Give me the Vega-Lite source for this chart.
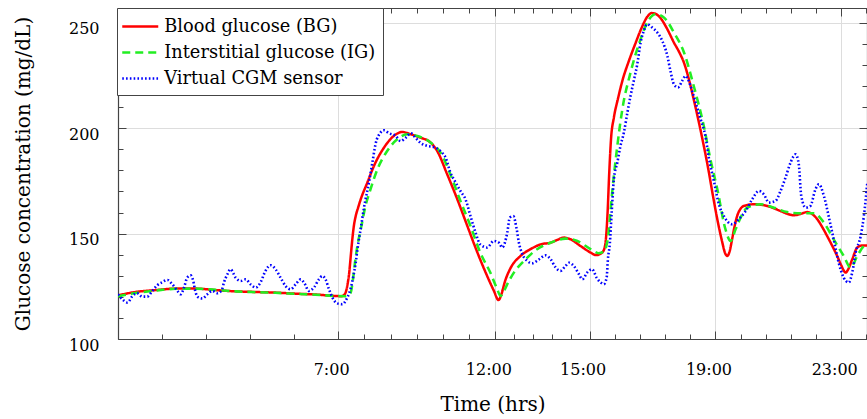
{
  "$schema": "https://vega.github.io/schema/vega-lite/v6.json",
  "width": 749,
  "height": 331,
  "autosize": "none",
  "padding": {"left": 118, "top": 8, "right": 0, "bottom": 80},
  "background": "white",
  "config": {
    "view": {"stroke": "#555555", "strokeWidth": 1},
    "font": "DejaVu Serif",
    "legend": {
      "orient": "none", "legendX": -1, "legendY": 0,
      "fillColor": "white", "strokeColor": "#444444", "padding": 7,
      "symbolType": "M-1.8,0H1.8", "symbolSize": 400, "symbolOffset": 4.75,
      "labelFont": "DejaVu Serif", "labelFontSize": 17.8, "labelColor": "black", "labelLimit": 600,
      "labelOffset": 12.5, "rowPadding": 5
    }
  },
  "datasets": {
    "g": [
      {"t":0,"v":120.7,"s":"BG"},{"t":0.56,"v":122.3,"s":"BG"},{"t":1.2,"v":123.2,"s":"BG"},{"t":1.83,"v":123.9,"s":"BG"},{"t":2.47,"v":123.9,"s":"BG"},{"t":3.1,"v":123.2,"s":"BG"},{"t":3.74,"v":122.6,"s":"BG"},{"t":4.38,"v":122.3,"s":"BG"},{"t":5.01,"v":122,"s":"BG"},{"t":5.65,"v":121.5,"s":"BG"},{"t":6.28,"v":121.1,"s":"BG"},{"t":6.92,"v":120.4,"s":"BG"},{"t":7.1,"v":120.3,"s":"BG"},{"t":7.18,"v":120.8,"s":"BG"},{"t":7.25,"v":122.5,"s":"BG"},{"t":7.3,"v":126,"s":"BG"},{"t":7.35,"v":131,"s":"BG"},{"t":7.4,"v":139,"s":"BG"},{"t":7.45,"v":147,"s":"BG"},{"t":7.5,"v":153.5,"s":"BG"},{"t":7.56,"v":158.3,"s":"BG"},{"t":7.64,"v":162.5,"s":"BG"},{"t":7.72,"v":166.3,"s":"BG"},{"t":7.93,"v":174.2,"s":"BG"},{"t":8.14,"v":182.1,"s":"BG"},{"t":8.46,"v":190.8,"s":"BG"},{"t":8.77,"v":196.3,"s":"BG"},{"t":9.04,"v":198.2,"s":"BG"},{"t":9.31,"v":197.1,"s":"BG"},{"t":9.62,"v":195.5,"s":"BG"},{"t":9.94,"v":193.2,"s":"BG"},{"t":10.15,"v":189.2,"s":"BG"},{"t":10.47,"v":178.1,"s":"BG"},{"t":10.79,"v":166.3,"s":"BG"},{"t":11.11,"v":153.6,"s":"BG"},{"t":11.43,"v":141,"s":"BG"},{"t":11.74,"v":129.9,"s":"BG"},{"t":11.95,"v":123,"s":"BG"},{"t":12.1,"v":118.5,"s":"BG"},{"t":12.2,"v":121.5,"s":"BG"},{"t":12.3,"v":127,"s":"BG"},{"t":12.48,"v":133.5,"s":"BG"},{"t":12.8,"v":139.4,"s":"BG"},{"t":13.12,"v":142.6,"s":"BG"},{"t":13.44,"v":144.9,"s":"BG"},{"t":13.76,"v":145.7,"s":"BG"},{"t":13.97,"v":147,"s":"BG"},{"t":14.18,"v":148.1,"s":"BG"},{"t":14.39,"v":147.3,"s":"BG"},{"t":14.71,"v":144.1,"s":"BG"},{"t":15.03,"v":141,"s":"BG"},{"t":15.2,"v":139.8,"s":"BG"},{"t":15.38,"v":140.8,"s":"BG"},{"t":15.47,"v":143,"s":"BG"},{"t":15.52,"v":148,"s":"BG"},{"t":15.57,"v":160,"s":"BG"},{"t":15.62,"v":178,"s":"BG"},{"t":15.68,"v":195,"s":"BG"},{"t":15.77,"v":205,"s":"BG"},{"t":15.9,"v":214,"s":"BG"},{"t":16.05,"v":223,"s":"BG"},{"t":16.25,"v":232,"s":"BG"},{"t":16.45,"v":240,"s":"BG"},{"t":16.65,"v":247.5,"s":"BG"},{"t":16.83,"v":252.8,"s":"BG"},{"t":16.97,"v":254.6,"s":"BG"},{"t":17.1,"v":254.2,"s":"BG"},{"t":17.25,"v":252.3,"s":"BG"},{"t":17.45,"v":247.5,"s":"BG"},{"t":17.68,"v":240.6,"s":"BG"},{"t":17.85,"v":236,"s":"BG"},{"t":18.0,"v":231,"s":"BG"},{"t":18.15,"v":223.5,"s":"BG"},{"t":18.31,"v":213.6,"s":"BG"},{"t":18.47,"v":203,"s":"BG"},{"t":18.63,"v":191.6,"s":"BG"},{"t":18.78,"v":180,"s":"BG"},{"t":18.92,"v":168,"s":"BG"},{"t":19.07,"v":156,"s":"BG"},{"t":19.22,"v":145.7,"s":"BG"},{"t":19.3,"v":141,"s":"BG"},{"t":19.38,"v":139.4,"s":"BG"},{"t":19.45,"v":141.5,"s":"BG"},{"t":19.53,"v":147.3,"s":"BG"},{"t":19.61,"v":153.5,"s":"BG"},{"t":19.69,"v":158.3,"s":"BG"},{"t":19.8,"v":161.8,"s":"BG"},{"t":19.9,"v":163.1,"s":"BG"},{"t":20.22,"v":163.9,"s":"BG"},{"t":20.65,"v":163.1,"s":"BG"},{"t":21.07,"v":160.7,"s":"BG"},{"t":21.3,"v":159.3,"s":"BG"},{"t":21.49,"v":158.7,"s":"BG"},{"t":21.7,"v":159.3,"s":"BG"},{"t":21.92,"v":160.2,"s":"BG"},{"t":22.1,"v":159,"s":"BG"},{"t":22.24,"v":156.8,"s":"BG"},{"t":22.4,"v":153,"s":"BG"},{"t":22.55,"v":148.9,"s":"BG"},{"t":22.87,"v":139.4,"s":"BG"},{"t":23.0,"v":135,"s":"BG"},{"t":23.14,"v":131.5,"s":"BG"},{"t":23.22,"v":133,"s":"BG"},{"t":23.35,"v":137.8,"s":"BG"},{"t":23.51,"v":143.4,"s":"BG"},{"t":23.65,"v":144.3,"s":"BG"},{"t":23.83,"v":144.4,"s":"BG"},

      {"t":0,"v":120.3,"s":"IG"},{"t":0.56,"v":121.8,"s":"IG"},{"t":1.2,"v":123,"s":"IG"},{"t":1.83,"v":123.8,"s":"IG"},{"t":2.47,"v":123.9,"s":"IG"},{"t":3.1,"v":123.3,"s":"IG"},{"t":3.74,"v":122.6,"s":"IG"},{"t":4.38,"v":122.2,"s":"IG"},{"t":5.01,"v":121.9,"s":"IG"},{"t":5.65,"v":121.4,"s":"IG"},{"t":6.28,"v":121,"s":"IG"},{"t":6.92,"v":120.4,"s":"IG"},{"t":7.2,"v":120.3,"s":"IG"},{"t":7.3,"v":120.6,"s":"IG"},{"t":7.4,"v":122,"s":"IG"},{"t":7.47,"v":128,"s":"IG"},{"t":7.55,"v":137.8,"s":"IG"},{"t":7.63,"v":145.5,"s":"IG"},{"t":7.72,"v":152,"s":"IG"},{"t":7.87,"v":163.1,"s":"IG"},{"t":8.03,"v":171,"s":"IG"},{"t":8.25,"v":180.5,"s":"IG"},{"t":8.56,"v":189.2,"s":"IG"},{"t":8.88,"v":194.7,"s":"IG"},{"t":9.2,"v":197.1,"s":"IG"},{"t":9.52,"v":196.3,"s":"IG"},{"t":9.94,"v":193.2,"s":"IG"},{"t":10.26,"v":188.4,"s":"IG"},{"t":10.57,"v":178.1,"s":"IG"},{"t":10.89,"v":165.5,"s":"IG"},{"t":11.21,"v":153.6,"s":"IG"},{"t":11.52,"v":141,"s":"IG"},{"t":11.84,"v":131.5,"s":"IG"},{"t":12.05,"v":124,"s":"IG"},{"t":12.17,"v":120.4,"s":"IG"},{"t":12.25,"v":122,"s":"IG"},{"t":12.38,"v":126,"s":"IG"},{"t":12.59,"v":131.5,"s":"IG"},{"t":12.91,"v":137,"s":"IG"},{"t":13.33,"v":142.6,"s":"IG"},{"t":13.76,"v":145.7,"s":"IG"},{"t":14.23,"v":147.6,"s":"IG"},{"t":14.61,"v":146.5,"s":"IG"},{"t":15.03,"v":142.6,"s":"IG"},{"t":15.29,"v":140.7,"s":"IG"},{"t":15.45,"v":141.5,"s":"IG"},{"t":15.53,"v":144,"s":"IG"},{"t":15.6,"v":150,"s":"IG"},{"t":15.66,"v":160,"s":"IG"},{"t":15.72,"v":170,"s":"IG"},{"t":15.88,"v":191.6,"s":"IG"},{"t":16.04,"v":209,"s":"IG"},{"t":16.3,"v":226.4,"s":"IG"},{"t":16.62,"v":242.2,"s":"IG"},{"t":16.83,"v":250.1,"s":"IG"},{"t":17.1,"v":254,"s":"IG"},{"t":17.36,"v":252.5,"s":"IG"},{"t":17.68,"v":245.4,"s":"IG"},{"t":18.0,"v":235.9,"s":"IG"},{"t":18.31,"v":220,"s":"IG"},{"t":18.63,"v":201,"s":"IG"},{"t":18.84,"v":185.2,"s":"IG"},{"t":19.06,"v":171,"s":"IG"},{"t":19.32,"v":152,"s":"IG"},{"t":19.48,"v":146.5,"s":"IG"},{"t":19.64,"v":152,"s":"IG"},{"t":19.8,"v":157.6,"s":"IG"},{"t":20.01,"v":162.3,"s":"IG"},{"t":20.43,"v":163.9,"s":"IG"},{"t":20.86,"v":162.3,"s":"IG"},{"t":21.28,"v":160.2,"s":"IG"},{"t":21.71,"v":159.6,"s":"IG"},{"t":22.13,"v":159.6,"s":"IG"},{"t":22.45,"v":155.2,"s":"IG"},{"t":22.76,"v":147.3,"s":"IG"},{"t":23.08,"v":139.4,"s":"IG"},{"t":23.3,"v":133.9,"s":"IG"},{"t":23.51,"v":139.4,"s":"IG"},{"t":23.72,"v":144.1,"s":"IG"},{"t":23.83,"v":145,"s":"IG"},

      {"t":0,"v":121.2,"s":"CGM"},{"t":0.14,"v":118.8,"s":"CGM"},{"t":0.3,"v":117.3,"s":"CGM"},{"t":0.46,"v":120.4,"s":"CGM"},{"t":0.61,"v":121.7,"s":"CGM"},{"t":0.77,"v":120.1,"s":"CGM"},{"t":0.93,"v":120.1,"s":"CGM"},{"t":1.09,"v":122.8,"s":"CGM"},{"t":1.25,"v":125.5,"s":"CGM"},{"t":1.41,"v":127,"s":"CGM"},{"t":1.57,"v":128,"s":"CGM"},{"t":1.73,"v":125.9,"s":"CGM"},{"t":1.89,"v":122.8,"s":"CGM"},{"t":1.99,"v":121.2,"s":"CGM"},{"t":2.1,"v":124.4,"s":"CGM"},{"t":2.2,"v":129.1,"s":"CGM"},{"t":2.31,"v":130.2,"s":"CGM"},{"t":2.38,"v":128.3,"s":"CGM"},{"t":2.47,"v":122,"s":"CGM"},{"t":2.57,"v":119.6,"s":"CGM"},{"t":2.68,"v":119.2,"s":"CGM"},{"t":2.84,"v":121.2,"s":"CGM"},{"t":3.0,"v":122.8,"s":"CGM"},{"t":3.16,"v":121.7,"s":"CGM"},{"t":3.3,"v":123.2,"s":"CGM"},{"t":3.37,"v":126.8,"s":"CGM"},{"t":3.48,"v":130.7,"s":"CGM"},{"t":3.58,"v":133.1,"s":"CGM"},{"t":3.74,"v":129.1,"s":"CGM"},{"t":3.9,"v":127.5,"s":"CGM"},{"t":4.06,"v":128.3,"s":"CGM"},{"t":4.22,"v":125.9,"s":"CGM"},{"t":4.38,"v":124.4,"s":"CGM"},{"t":4.53,"v":126.8,"s":"CGM"},{"t":4.69,"v":132.3,"s":"CGM"},{"t":4.85,"v":135,"s":"CGM"},{"t":5.01,"v":133.1,"s":"CGM"},{"t":5.17,"v":129.1,"s":"CGM"},{"t":5.33,"v":125.1,"s":"CGM"},{"t":5.49,"v":123.6,"s":"CGM"},{"t":5.65,"v":125.9,"s":"CGM"},{"t":5.81,"v":128.3,"s":"CGM"},{"t":5.93,"v":126.4,"s":"CGM"},{"t":6.07,"v":122.8,"s":"CGM"},{"t":6.23,"v":124.4,"s":"CGM"},{"t":6.39,"v":128.3,"s":"CGM"},{"t":6.5,"v":129.9,"s":"CGM"},{"t":6.6,"v":128.3,"s":"CGM"},{"t":6.71,"v":123.6,"s":"CGM"},{"t":6.82,"v":119.6,"s":"CGM"},{"t":6.97,"v":116.9,"s":"CGM"},{"t":7.13,"v":116.5,"s":"CGM"},{"t":7.29,"v":119.6,"s":"CGM"},{"t":7.4,"v":124,"s":"CGM"},{"t":7.5,"v":131,"s":"CGM"},{"t":7.56,"v":136.2,"s":"CGM"},{"t":7.61,"v":142,"s":"CGM"},{"t":7.72,"v":152.5,"s":"CGM"},{"t":7.82,"v":162,"s":"CGM"},{"t":7.98,"v":174.2,"s":"CGM"},{"t":8.09,"v":183.7,"s":"CGM"},{"t":8.19,"v":192.4,"s":"CGM"},{"t":8.35,"v":197.9,"s":"CGM"},{"t":8.46,"v":199,"s":"CGM"},{"t":8.62,"v":197.6,"s":"CGM"},{"t":8.83,"v":196.3,"s":"CGM"},{"t":8.99,"v":193.9,"s":"CGM"},{"t":9.15,"v":195.5,"s":"CGM"},{"t":9.31,"v":197.6,"s":"CGM"},{"t":9.46,"v":195.5,"s":"CGM"},{"t":9.62,"v":193,"s":"CGM"},{"t":9.84,"v":191.6,"s":"CGM"},{"t":10.05,"v":191,"s":"CGM"},{"t":10.26,"v":189,"s":"CGM"},{"t":10.42,"v":186,"s":"CGM"},{"t":10.57,"v":179,"s":"CGM"},{"t":10.74,"v":174.2,"s":"CGM"},{"t":10.89,"v":170.2,"s":"CGM"},{"t":11.05,"v":166.3,"s":"CGM"},{"t":11.21,"v":158.3,"s":"CGM"},{"t":11.37,"v":150.5,"s":"CGM"},{"t":11.52,"v":144.9,"s":"CGM"},{"t":11.74,"v":143.4,"s":"CGM"},{"t":11.95,"v":146.5,"s":"CGM"},{"t":12.11,"v":145.7,"s":"CGM"},{"t":12.22,"v":143.4,"s":"CGM"},{"t":12.38,"v":150.5,"s":"CGM"},{"t":12.46,"v":157.6,"s":"CGM"},{"t":12.57,"v":158.3,"s":"CGM"},{"t":12.68,"v":152,"s":"CGM"},{"t":12.75,"v":145.7,"s":"CGM"},{"t":12.86,"v":140.2,"s":"CGM"},{"t":13.02,"v":137,"s":"CGM"},{"t":13.17,"v":135.9,"s":"CGM"},{"t":13.39,"v":137.8,"s":"CGM"},{"t":13.6,"v":139.7,"s":"CGM"},{"t":13.76,"v":137.8,"s":"CGM"},{"t":13.92,"v":133.9,"s":"CGM"},{"t":14.07,"v":132.3,"s":"CGM"},{"t":14.23,"v":134.6,"s":"CGM"},{"t":14.34,"v":136.2,"s":"CGM"},{"t":14.5,"v":134.6,"s":"CGM"},{"t":14.66,"v":130.7,"s":"CGM"},{"t":14.77,"v":128.3,"s":"CGM"},{"t":14.92,"v":131.5,"s":"CGM"},{"t":15.08,"v":133.1,"s":"CGM"},{"t":15.22,"v":129.1,"s":"CGM"},{"t":15.35,"v":126.8,"s":"CGM"},{"t":15.45,"v":126,"s":"CGM"},{"t":15.54,"v":129.1,"s":"CGM"},{"t":15.58,"v":137.8,"s":"CGM"},{"t":15.64,"v":145,"s":"CGM"},{"t":15.7,"v":160,"s":"CGM"},{"t":15.77,"v":175.8,"s":"CGM"},{"t":15.88,"v":183.7,"s":"CGM"},{"t":15.98,"v":191.6,"s":"CGM"},{"t":16.09,"v":198,"s":"CGM"},{"t":16.2,"v":207.4,"s":"CGM"},{"t":16.3,"v":215.3,"s":"CGM"},{"t":16.41,"v":223,"s":"CGM"},{"t":16.51,"v":230,"s":"CGM"},{"t":16.62,"v":240.6,"s":"CGM"},{"t":16.72,"v":246.1,"s":"CGM"},{"t":16.83,"v":249.3,"s":"CGM"},{"t":16.99,"v":247.7,"s":"CGM"},{"t":17.15,"v":245.4,"s":"CGM"},{"t":17.31,"v":241.4,"s":"CGM"},{"t":17.47,"v":234.3,"s":"CGM"},{"t":17.57,"v":227.1,"s":"CGM"},{"t":17.68,"v":220.8,"s":"CGM"},{"t":17.81,"v":219.3,"s":"CGM"},{"t":17.94,"v":222.4,"s":"CGM"},{"t":18.05,"v":224.8,"s":"CGM"},{"t":18.15,"v":222.4,"s":"CGM"},{"t":18.26,"v":217.6,"s":"CGM"},{"t":18.37,"v":212.1,"s":"CGM"},{"t":18.53,"v":204.2,"s":"CGM"},{"t":18.68,"v":196.3,"s":"CGM"},{"t":18.79,"v":186,"s":"CGM"},{"t":18.95,"v":175,"s":"CGM"},{"t":19.11,"v":163.9,"s":"CGM"},{"t":19.27,"v":158.3,"s":"CGM"},{"t":19.53,"v":154.4,"s":"CGM"},{"t":19.74,"v":156.8,"s":"CGM"},{"t":19.96,"v":160.7,"s":"CGM"},{"t":20.17,"v":166.3,"s":"CGM"},{"t":20.38,"v":170.2,"s":"CGM"},{"t":20.54,"v":168.6,"s":"CGM"},{"t":20.7,"v":164.7,"s":"CGM"},{"t":20.91,"v":165.5,"s":"CGM"},{"t":21.07,"v":170.2,"s":"CGM"},{"t":21.23,"v":176.6,"s":"CGM"},{"t":21.39,"v":183.7,"s":"CGM"},{"t":21.55,"v":187.6,"s":"CGM"},{"t":21.65,"v":182.9,"s":"CGM"},{"t":21.73,"v":167.8,"s":"CGM"},{"t":21.87,"v":162.3,"s":"CGM"},{"t":22.02,"v":163.1,"s":"CGM"},{"t":22.18,"v":171,"s":"CGM"},{"t":22.29,"v":173.4,"s":"CGM"},{"t":22.45,"v":167.8,"s":"CGM"},{"t":22.61,"v":157.6,"s":"CGM"},{"t":22.76,"v":147.3,"s":"CGM"},{"t":22.92,"v":136.2,"s":"CGM"},{"t":23.08,"v":129.1,"s":"CGM"},{"t":23.24,"v":126.8,"s":"CGM"},{"t":23.35,"v":131.5,"s":"CGM"},{"t":23.46,"v":141,"s":"CGM"},{"t":23.62,"v":148.9,"s":"CGM"},{"t":23.72,"v":158.3,"s":"CGM"},{"t":23.83,"v":174.2,"s":"CGM"}
    ]
  },
  "data": {"name": "g"},
  "resolve": {"axis": {"x": "independent", "y": "independent"}},
  "layer": [
    {
      "transform": [{"filter": "datum.s == 'BG'"}],
      "mark": {"type": "line", "interpolate": "monotone", "strokeCap": "butt", "clip": true},
      "encoding": {
        "x": {"field": "t", "type": "quantitative", "scale": {"domain": [0, 23.82], "nice": false, "zero": false},
          "axis": {"orient": "bottom",
            "values": [1.4,2.8,4.2,5.6,7,7.8333,8.6667,9.5,10.3333,11.1667,12,12.6,13.2,13.8,14.4,15,15.8,16.6,17.4,18.2,19,19.8,20.6,21.4,22.2,23,23.8],
            "labelExpr": "indexof([7,12,15,19,23], datum.value) >= 0 ? datum.value + ':00' : ''",
            "tickSize": {"condition": {"test": "indexof([7,12,15,19,23], datum.value) >= 0", "value": -8}, "value": -5},
            "grid": true,
            "gridOpacity": {"condition": {"test": "indexof([7,12,15,19,23], datum.value) >= 0", "value": 1}, "value": 0},
            "gridColor": "#dddddd", "domainColor": "#444444", "tickColor": "#444444", "domainWidth": 1.2,
            "labelFont": "DejaVu Serif", "labelFontSize": 16, "labelColor": "black",
            "labelPadding": 30, "labelOffset": -7, "labelOverlap": false, "labelFlush": false,
            "title": "Time (hrs)", "titleFont": "DejaVu Serif", "titleFontSize": 20, "titleFontWeight": "normal", "titleColor": "black", "titlePadding": 14}},
        "y": {"field": "v", "type": "quantitative", "scale": {"domain": [100, 257], "nice": false, "zero": false},
          "axis": {"orient": "left",
            "values": [100,110,120,130,140,150,160,170,180,190,200,210,220,230,240,250],
            "labelExpr": "datum.value % 50 == 0 ? datum.label : ''",
            "tickSize": {"condition": {"test": "datum.value % 50 == 0", "value": -8}, "value": -5},
            "grid": true,
            "gridOpacity": {"condition": {"test": "datum.value % 50 == 0", "value": 1}, "value": 0},
            "gridColor": "#dddddd", "domainColor": "#444444", "tickColor": "#444444", "domainWidth": 1.2,
            "labelFont": "DejaVu Serif", "labelFontSize": 16, "labelColor": "black",
            "labelPadding": 27, "labelOffset": 6, "labelOverlap": false, "labelFlush": false,
            "title": "Glucose concentration (mg/dL)", "titleFont": "DejaVu Serif", "titleFontSize": 20, "titleFontWeight": "normal", "titleColor": "black", "titlePadding": 35}},
        "color": {"field": "s", "type": "nominal", "scale": {"domain": ["BG", "IG", "CGM"], "range": ["#ff0000", "#22ee22", "#0000ff"]},
          "legend": {"title": null, "labelExpr": "datum.label == 'BG' ? 'Blood glucose (BG)' : datum.label == 'IG' ? 'Interstitial glucose (IG)' : 'Virtual CGM sensor'"}},
        "strokeDash": {"field": "s", "type": "nominal", "scale": {"domain": ["BG", "IG", "CGM"], "range": [[1, 0], [8, 5], [1.6, 2.2]]},
          "legend": {"title": null, "labelExpr": "datum.label == 'BG' ? 'Blood glucose (BG)' : datum.label == 'IG' ? 'Interstitial glucose (IG)' : 'Virtual CGM sensor'"}},
        "strokeWidth": {"field": "s", "type": "nominal", "scale": {"domain": ["BG", "IG", "CGM"], "range": [2.5, 2.6, 1.8]},
          "legend": {"title": null, "labelExpr": "datum.label == 'BG' ? 'Blood glucose (BG)' : datum.label == 'IG' ? 'Interstitial glucose (IG)' : 'Virtual CGM sensor'"}}
      }
    },
    {
      "transform": [{"filter": "datum.s == 'IG'"}],
      "mark": {"type": "line", "interpolate": "monotone", "strokeCap": "butt", "clip": true},
      "encoding": {
        "x": {"field": "t", "type": "quantitative",
          "axis": {"orient": "top",
            "values": [1.4,2.8,4.2,5.6,7,7.8333,8.6667,9.5,10.3333,11.1667,12,12.6,13.2,13.8,14.4,15,15.8,16.6,17.4,18.2,19,19.8,20.6,21.4,22.2,23,23.8],
            "labels": false, "grid": false, "title": null,
            "tickSize": {"condition": {"test": "indexof([7,12,15,19,23], datum.value) >= 0", "value": -8}, "value": -5},
            "domainColor": "#444444", "tickColor": "#444444", "domainWidth": 1.2}},
        "y": {"field": "v", "type": "quantitative",
          "axis": {"orient": "right",
            "values": [100,110,120,130,140,150,160,170,180,190,200,210,220,230,240,250],
            "labels": false, "grid": false, "title": null,
            "tickSize": {"condition": {"test": "datum.value % 50 == 0", "value": -8}, "value": -5},
            "domainColor": "#444444", "tickColor": "#444444", "domainWidth": 1.2}},
        "color": {"field": "s", "type": "nominal"},
        "strokeDash": {"field": "s", "type": "nominal"},
        "strokeWidth": {"field": "s", "type": "nominal"}
      }
    },
    {
      "transform": [{"filter": "datum.s == 'CGM'"}],
      "mark": {"type": "line", "interpolate": "monotone", "strokeCap": "butt", "clip": true},
      "encoding": {
        "x": {"field": "t", "type": "quantitative", "axis": null},
        "y": {"field": "v", "type": "quantitative", "axis": null},
        "color": {"field": "s", "type": "nominal"},
        "strokeDash": {"field": "s", "type": "nominal"},
        "strokeWidth": {"field": "s", "type": "nominal"}
      }
    }
  ]
}
